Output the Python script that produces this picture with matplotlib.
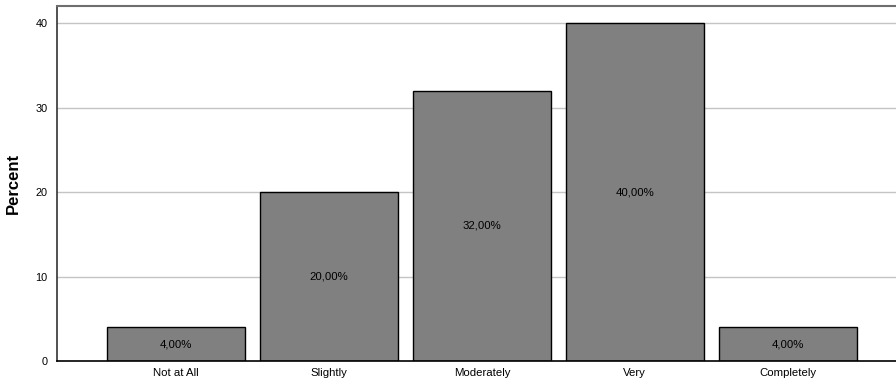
import matplotlib.pyplot as plt

plt.rcParams['font.family'] = ['Liberation Sans', 'DejaVu Sans']

# response categories and percentage of respondents
categories = ['Not at All', 'Slightly', 'Moderately', 'Very', 'Completely']
percents = [4.0, 20.0, 32.0, 40.0, 4.0]
yticks = [0, 10, 20, 30, 40]

fig = plt.figure(figsize=(8.96, 3.85), dpi=100)
ax = fig.add_axes([57 / 896, 24 / 385, 850 / 896, 355 / 385])

x = range(len(categories))
bars = ax.bar(x, percents, width=0.905, color='#808080', edgecolor='black',
              linewidth=1.0, zorder=3)

# value labels in the middle of each bar
for xi, p in zip(x, percents):
    ax.text(xi, p / 2, ('%.2f%%' % p).replace('.', ','), ha='center',
            va='center', fontsize=8.2, color='black', zorder=4)

ax.set_xlim(-0.78, 4.78)
ax.set_ylim(0, 42.07)
ax.set_xticks(list(x))
ax.set_xticklabels(categories, fontsize=8.2)
ax.set_yticks(yticks)
ax.set_yticklabels([str(t) for t in yticks], fontsize=7.8)
ax.tick_params(axis='both', length=0)
ax.tick_params(axis='x', pad=5)
ax.tick_params(axis='y', pad=7)

for t in yticks[1:]:
    ax.axhline(t, color='#c4c4c4', linewidth=1.0, zorder=1)

ax.spines['left'].set_color('#333333')
ax.spines['left'].set_linewidth(1.2)
ax.spines['bottom'].set_color('black')
ax.spines['bottom'].set_linewidth(1.2)
ax.spines['bottom'].set_zorder(5)
ax.spines['top'].set_color('#6e6e6e')
ax.spines['top'].set_linewidth(1.5)
ax.spines['right'].set_visible(False)

ax.set_ylabel('Percent', fontsize=12, fontweight='bold', labelpad=10)

fig.savefig('out.png', dpi=100)
